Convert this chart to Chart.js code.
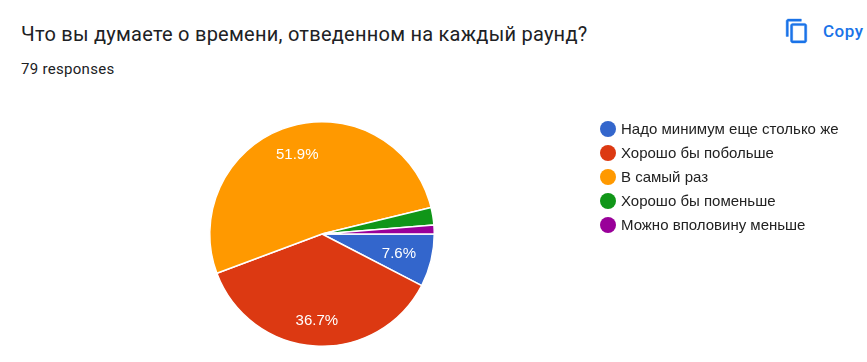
<!DOCTYPE html>
<html>
<head>
<meta charset="utf-8">
<title>Что вы думаете о времени</title>
<script src="https://cdn.jsdelivr.net/npm/chart.js@4"></script>
<style>
  html, body { margin: 0; padding: 0; background: #fff; width: 867px; height: 362px; overflow: hidden; position: relative; }
  canvas { position: absolute; left: 0; top: 0; }
  .title { position: absolute; left: 21px; top: 22px; font: 400 20px Roboto, sans-serif; letter-spacing: .25px; color: #202124; white-space: nowrap; }
  .sub { position: absolute; left: 21px; top: 60px; font: 400 15px Roboto, sans-serif; letter-spacing: .3px; color: #202124; white-space: nowrap; }
  .copy { position: absolute; left: 823px; top: 21px; font: 500 17px Roboto, sans-serif; letter-spacing: .5px; color: #1a73e8; white-space: nowrap; }
  .icon { position: absolute; left: 784px; top: 18px; }
  #legend { position: absolute; left: 600px; top: 119px; font: 15px "Liberation Sans", Arial, sans-serif; color: #222; }
  #legend div { height: 24px; line-height: 20px; white-space: nowrap; position: relative; padding-left: 21px; }
  #legend i { position: absolute; left: 0; top: 2px; width: 16px; height: 16px; border-radius: 50%; }
</style>
</head>
<body>
<div class="title">Что вы думаете о времени, отведенном на каждый раунд?</div>
<div class="sub">79 responses</div>
<svg class="icon" width="26" height="26" viewBox="0 0 24 24" fill="#1a73e8" stroke="#1a73e8" stroke-width=".4"><path d="M16 1H4c-1.1 0-2 .9-2 2v14h2V3h12V1zm3 4H8c-1.1 0-2 .9-2 2v14c0 1.1.9 2 2 2h11c1.100 0 2-.9 2-2V7c0-1.100-.9-2-2-2zm0 16H8V7h11v14z"/></svg>
<div class="copy">Copy</div>
<canvas id="pie" width="867" height="362"></canvas>
<div id="legend"></div>
<script>
const categories = ["Надо минимум еще столько же", "Хорошо бы побольше", "В самый раз", "Хорошо бы поменьше", "Можно вполовину меньше"];
const responses = [6, 29, 41, 2, 1];
const percentLabels = ["7.6%", "36.7%", "51.9%", "", ""];
const colors = ["#3366cc", "#dc3912", "#ff9900", "#109618", "#990099"];
// how far out each percent sits, as a share of the radius
const labelRadius = [0.705, 0.768, 0.75, 0, 0];

// white percent text inside the big slices
const sliceLabels = {
  id: "sliceLabels",
  afterDatasetsDraw(chart) {
    const ctx = chart.ctx;
    ctx.save();
    ctx.font = '15px "Liberation Sans", Arial, sans-serif';
    ctx.fillStyle = "#fff";
    ctx.textAlign = "center";
    ctx.textBaseline = "middle";
    chart.getDatasetMeta(0).data.forEach((arc, i) => {
      if (!percentLabels[i]) return;
      const mid = (arc.startAngle + arc.endAngle) / 2;
      const r = arc.outerRadius * labelRadius[i];
      ctx.fillText(percentLabels[i], arc.x + Math.cos(mid) * r, arc.y + Math.sin(mid) * r + 1);
    });
    ctx.restore();
  }
};

new Chart(document.getElementById("pie"), {
  type: "pie",
  data: {
    labels: categories,
    datasets: [{ data: responses, backgroundColor: colors, borderColor: "#fff", borderWidth: 1.5 }]
  },
  options: {
    responsive: false,
    animation: false,
    rotation: 90,
    layout: { padding: { left: 209, right: 432, top: 121, bottom: 15 } },
    plugins: { legend: { display: false }, tooltip: { enabled: false } }
  },
  plugins: [sliceLabels]
});

document.getElementById("legend").innerHTML = categories.map((name, i) =>
  `<div><i style="background:${colors[i]}"></i>${name}</div>`).join("");
</script>
</body>
</html>
